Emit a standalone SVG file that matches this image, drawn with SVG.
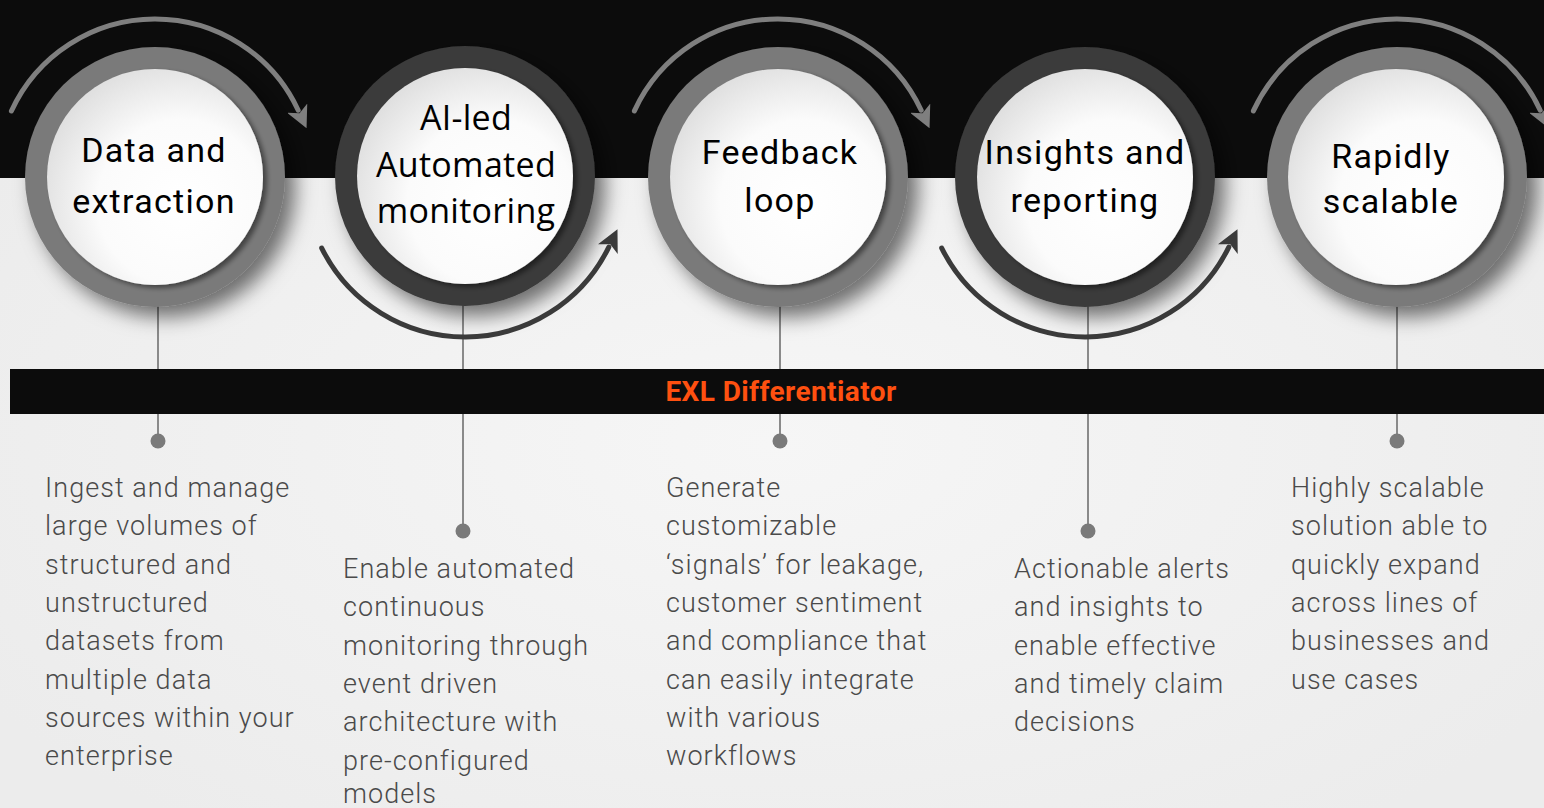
<svg xmlns="http://www.w3.org/2000/svg" width="1544" height="808" viewBox="0 0 1544 808">
<defs>
<radialGradient id="bg" cx="0.5" cy="0.55" r="0.6">
<stop offset="0" stop-color="#f6f6f6"/>
<stop offset="1" stop-color="#ececec"/>
</radialGradient>
<radialGradient id="face" cx="0.62" cy="0.62" r="0.7">
<stop offset="0" stop-color="#ffffff"/>
<stop offset="0.55" stop-color="#fbfbfb"/>
<stop offset="1" stop-color="#dcdcdc"/>
</radialGradient>
<filter id="ringShadow" x="-30%" y="-30%" width="170%" height="170%">
<feDropShadow dx="10" dy="10" stdDeviation="10" flood-color="#000" flood-opacity="0.55"/>
</filter>
<filter id="faceShadow" x="-20%" y="-20%" width="150%" height="150%">
<feDropShadow dx="4" dy="3" stdDeviation="2.5" flood-color="#000" flood-opacity="0.45"/>
</filter>
<marker id="ahGray" viewBox="0 0 20 20" refX="2" refY="10" markerWidth="22" markerHeight="22" markerUnits="userSpaceOnUse" orient="auto">
<path d="M0,0 L20,10 L0,20 L5,10 z" fill="#7f7f7f"/>
</marker>
<marker id="ahDark" viewBox="0 0 20 20" refX="2" refY="10" markerWidth="22" markerHeight="22" markerUnits="userSpaceOnUse" orient="auto">
<path d="M0,0 L20,10 L0,20 L5,10 z" fill="#3a3a3a"/>
</marker>
<style>
.ringL{fill:#7a7a7a}
.ringD{fill:#3a3a3a}
.face{fill:url(#face)}
.title{font-family:Roboto,"Liberation Sans",sans-serif;font-size:34px;letter-spacing:1.3px;fill:#000;text-anchor:middle}
.title2{font-family:"Open Sans","Liberation Sans",sans-serif;font-size:34px;letter-spacing:0.3px;fill:#000;text-anchor:middle}
.body{font-family:Roboto,"Liberation Sans",sans-serif;font-weight:300;font-size:27px;letter-spacing:1.05px;fill:#4a4a4a}
.stem{stroke:#8a8a8a;stroke-width:2;fill:none}
.dot{fill:#7a7a7a}
.arcT{stroke:#7f7f7f;stroke-width:5;fill:none;stroke-linecap:round;marker-end:url(#ahGray)}
.arcB{stroke:#3a3a3a;stroke-width:5;fill:none;stroke-linecap:round;marker-end:url(#ahDark)}
.band{font-family:Roboto,"Liberation Sans",sans-serif;font-weight:bold;font-size:28px;letter-spacing:0.4px;fill:#ff5010;text-anchor:middle}
</style>
</defs>

<rect x="0" y="0" width="1544" height="808" fill="url(#bg)"/>
<rect x="0" y="0" width="1544" height="178" fill="#0c0c0c"/>

<g id="connectors">
<line class="stem" x1="158" y1="300" x2="158" y2="441"/>
<line class="stem" x1="463" y1="300" x2="463" y2="531"/>
<line class="stem" x1="780" y1="300" x2="780" y2="441"/>
<line class="stem" x1="1088" y1="300" x2="1088" y2="531"/>
<line class="stem" x1="1397" y1="300" x2="1397" y2="441"/>
<circle class="dot" cx="158" cy="441" r="7.5"/>
<circle class="dot" cx="463" cy="531" r="7.5"/>
<circle class="dot" cx="780" cy="441" r="7.5"/>
<circle class="dot" cx="1088" cy="531" r="7.5"/>
<circle class="dot" cx="1397" cy="441" r="7.5"/>
</g>

<g id="differentiator-bar">
<rect x="10" y="369" width="1534" height="45" fill="#0c0c0c"/>
<text class="band" x="781" y="401">EXL Differentiator</text>
</g>

<g id="node1">
<circle class="ringL" cx="155" cy="177" r="130" filter="url(#ringShadow)"/>
<circle class="face" cx="155" cy="177" r="108" filter="url(#faceShadow)"/>
<text class="title" x="154" y="162">Data and</text>
<text class="title" x="154" y="213">extraction</text>
<path class="arcT" d="M11.4,111 A158,158 0 0 1 298.2,110.2"/>
<text class="body" x="45" y="497">Ingest and manage</text>
<text class="body" x="45" y="535.3">large volumes of</text>
<text class="body" x="45" y="573.6">structured and</text>
<text class="body" x="45" y="611.9">unstructured</text>
<text class="body" x="45" y="650.2">datasets from</text>
<text class="body" x="45" y="688.5">multiple data</text>
<text class="body" x="45" y="726.8">sources within your</text>
<text class="body" x="45" y="765.1">enterprise</text>
</g>

<g id="node2">
<circle class="ringD" cx="465" cy="176" r="130" filter="url(#ringShadow)"/>
<circle class="face" cx="465" cy="176" r="108" filter="url(#faceShadow)"/>
<text class="title2" x="466" y="130">AI-led</text>
<text class="title2" x="466" y="177">Automated</text>
<text class="title2" x="466" y="223">monitoring</text>
<path class="arcB" d="M321.7,248.1 A160,160 0 0 0 608.8,247.1"/>
<text class="body" x="343" y="578">Enable automated</text>
<text class="body" x="343" y="616.3">continuous</text>
<text class="body" x="343" y="654.6">monitoring through</text>
<text class="body" x="343" y="692.9">event driven</text>
<text class="body" x="343" y="731.2">architecture with</text>
<text class="body" x="343" y="769.5">pre-configured</text>
<text class="body" x="343" y="803">models</text>
</g>

<g id="node3">
<circle class="ringL" cx="778" cy="177" r="130" filter="url(#ringShadow)"/>
<circle class="face" cx="778" cy="177" r="108" filter="url(#faceShadow)"/>
<text class="title" x="780" y="164">Feedback</text>
<text class="title" x="780" y="212">loop</text>
<path class="arcT" d="M634.4,110.9 A158,158 0 0 1 921.2,110.2"/>
<text class="body" x="666" y="497">Generate</text>
<text class="body" x="666" y="535.3">customizable</text>
<text class="body" x="666" y="573.6">‘signals’ for leakage,</text>
<text class="body" x="666" y="611.9">customer sentiment</text>
<text class="body" x="666" y="650.2">and compliance that</text>
<text class="body" x="666" y="688.5">can easily integrate</text>
<text class="body" x="666" y="726.8">with various</text>
<text class="body" x="666" y="765.1">workflows</text>
</g>

<g id="node4">
<circle class="ringD" cx="1085" cy="177" r="130" filter="url(#ringShadow)"/>
<circle class="face" cx="1085" cy="177" r="108" filter="url(#faceShadow)"/>
<text class="title" x="1085" y="164">Insights and</text>
<text class="title" x="1085" y="212">reporting</text>
<path class="arcB" d="M941.7,248.1 A160,160 0 0 0 1228.8,247.1"/>
<text class="body" x="1014" y="578">Actionable alerts</text>
<text class="body" x="1014" y="616.3">and insights to</text>
<text class="body" x="1014" y="654.6">enable effective</text>
<text class="body" x="1014" y="692.9">and timely claim</text>
<text class="body" x="1014" y="731.2">decisions</text>
</g>

<g id="node5">
<circle class="ringL" cx="1397" cy="177" r="130" filter="url(#ringShadow)"/>
<circle class="face" cx="1396" cy="177" r="108" filter="url(#faceShadow)"/>
<text class="title" x="1391" y="168">Rapidly</text>
<text class="title" x="1391" y="213">scalable</text>
<path class="arcT" d="M1253.4,110.9 A158,158 0 0 1 1540.2,110.2"/>
<text class="body" x="1291" y="497">Highly scalable</text>
<text class="body" x="1291" y="535.3">solution able to</text>
<text class="body" x="1291" y="573.6">quickly expand</text>
<text class="body" x="1291" y="611.9">across lines of</text>
<text class="body" x="1291" y="650.2">businesses and</text>
<text class="body" x="1291" y="688.5">use cases</text>
</g>
</svg>
